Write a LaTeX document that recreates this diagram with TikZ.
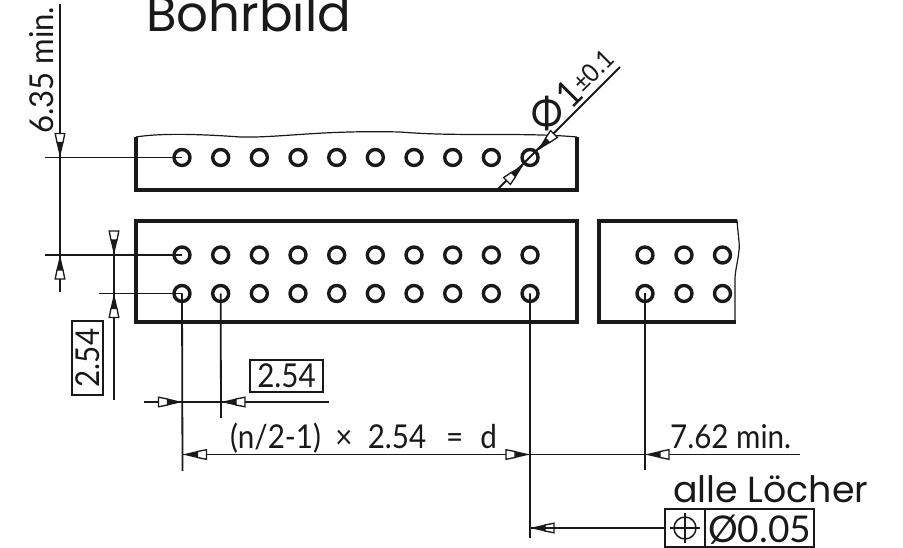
\documentclass[tikz,border=0pt]{standalone}
\usepackage{fontspec}
\setmainfont{Lato}
\newfontfamily\headfont{Poppins}
\usetikzlibrary{calc}
\tikzset{
  thick line/.style={line width=3.2bp,black!90},
  thin line/.style={line width=1.8bp,black!90},
  hair line/.style={line width=1.2bp,black!90},
  hole/.style={circle,draw=black!90,line width=3.4bp,minimum size=16bp,inner sep=0pt,fill=white},
  dimtext/.style={inner sep=0pt,font=\fontsize{33}{33}\selectfont,text=black!90,xscale=.9},
  headtext/.style={inner sep=0pt,font=\headfont,text=black!90},
  framebox/.style={draw=black!90,line width=2bp}
}
\newcommand{\headtip}[2]{%
  \begin{scope}[shift={(#1)},rotate=#2]
    \fill[black!90] (0,0) -- (15bp,-3.5bp) -- (15bp,3.5bp) -- cycle;
    \draw[line width=1.3bp,black!90,fill=white] (15bp,-3bp) -- (24bp,-4.8bp) -- (24bp,4.8bp) -- (15bp,3bp) -- cycle;
  \end{scope}}
\begin{document}
\begin{tikzpicture}[x=1bp,y=-1bp]
\useasboundingbox (0,0) rectangle (903,548);
\clip (0,0) rectangle (903,548);
\fill[white] (0,0) rectangle (903,548);
% blocks
\draw[thick line,line join=miter] (136,137) -- (136,190) -- (577,190) -- (577,137);
\draw[hair line] (136,137) .. controls (160,133) and (200,134) .. (240,137) .. controls (280,138) and (320,130) .. (400,132) .. controls (460,137) and (520,132) .. (577,137);
\draw[thick line] (136,221) rectangle (577,322);
\draw[thick line] (737,221) -- (599,221) -- (599,322) -- (736,322);
\draw[hair line] (737,220) .. controls (738,235) and (740,245) .. (739,250) .. controls (738,262) and (735,270) .. (735,280) -- (735,323);
% holes
\foreach \i in {0,...,9} {
  \node[hole] (t\i) at ({182+\i*38.67},157.5) {};
  \node[hole] (u\i) at ({182+\i*38.67},255) {};
  \node[hole] (v\i) at ({182+\i*38.67},293.5) {};
}
\foreach \i/\x in {0/645,1/684,2/722.5} {
  \node[hole] (ru\i) at (\x,255) {};
  \node[hole] (rv\i) at (\x,293.5) {};
}
% free ends
\coordinate (a6top) at (60,4);
\coordinate (a6bot) at (60,292);
\coordinate (t0l) at (45,157.5);
\coordinate (u0l) at (45,255);
\coordinate (v0l) at (99,293.5);
\coordinate (p254top) at (114,231);
\coordinate (p254bot) at (114,400);
\coordinate (h1l) at (144,402);
\coordinate (h1r) at (329,402);
\coordinate (v0d) at (182.5,471);
\coordinate (v1d) at (221,418);
\coordinate (v9d) at (530,538);
\coordinate (rvd) at (645,470);
\coordinate (dl) at (182.5,454.5);
\coordinate (dr) at (800,454.5);
% dimension lines
\draw[thin line] (a6top) -- (a6bot);
\draw[thin line] (t0l) -- (t0.center);
\draw[thin line] (u0l) -- (u0.center);
\draw[thin line] (v0l) -- (v0.center);
\draw[thin line] (p254top) -- (p254bot);
\draw[thin line] (v0.center) -- (v0d);
\draw[thin line] (v1.center) -- (v1d);
\draw[thin line] (v9.center) -- (v9d);
\draw[thin line] (rv0.center) -- (rvd);
\draw[thin line] (h1l) -- (h1r);
\draw[thin line] (dl) -- (dr);
\draw[thin line] (498,189) -- (620,67);
% arrowheads
\headtip{60,157.5}{90}
\headtip{60,255}{-90}
\headtip{114,255}{90}
\headtip{114,293.5}{-90}
\headtip{182.5,402}{180}
\headtip{221,402}{0}
\headtip{182.5,454.5}{0}
\headtip{530,454.5}{180}
\headtip{645,454.5}{0}
\headtip{530,528}{0}
\headtip{537,151}{45}
\headtip{524,164}{-135}
% tolerance frame
\node[framebox,minimum width=149bp,minimum height=38bp,inner sep=0pt] (frame) at (739.5,528) {};
\coordinate (fdiv1) at (704.5,509);
\coordinate (fdiv2) at (704.5,547);
\draw[framebox] (fdiv1) -- (fdiv2);
\draw[thin line] (530,528) -- (frame.west);
\node[circle,draw=black!90,line width=1.5bp,minimum size=22bp,inner sep=0pt] (target) at (685,528) {};
\draw[hair line] (685,513) -- (685,543) (670,528) -- (700,528);
\node[dimtext,anchor=base west,xscale=1.12,font=\fontsize{37}{37}\selectfont] (tol) at (708,542) {Ø0.05};
% boxed dims
\node[framebox,minimum width=31bp,minimum height=74bp,inner sep=0pt] (bv) at (87.5,358) {};
\node[rotate=90,dimtext,anchor=center] (bvt) at (87.5,358) {2.54};
\node[framebox,minimum width=73bp,minimum height=32bp,inner sep=0pt] (bh) at (286.5,376) {};
\node[dimtext,anchor=center] (bht) at (286.5,376) {2.54};
% labels
\node[rotate=90,dimtext,xscale=1.05,anchor=base west] (l635) at (53,134) {6.35 min.};
\node[dimtext,anchor=base west] (ln) at (230,448) {(n/2-1)\hspace{16bp}×\hspace{17bp}2.54\hspace{22bp}=\hspace{19bp}d};
\node[dimtext,anchor=base west] (l762) at (670,448) {7.62 min.};
\node[dimtext,anchor=center,font=\fontsize{42}{42}\selectfont] (dia) at (547,114) {Φ};
\node[rotate=45,dimtext,anchor=center,font=\fontsize{38}{38}\selectfont] (one) at (569,94) {1};
\node[rotate=45,dimtext,anchor=center,font=\fontsize{26}{26}\selectfont] (tolp) at (593,71) {±0.1};
\node[headtext,anchor=base west,font=\headfont\fontsize{50}{50}\selectfont] (hb) at (146,32) {Bohrbild};
\node[headtext,anchor=base west,font=\headfont\fontsize{36.5}{36.5}\selectfont] (hl) at (673,502) {alle Löcher};
\end{tikzpicture}
\end{document}
